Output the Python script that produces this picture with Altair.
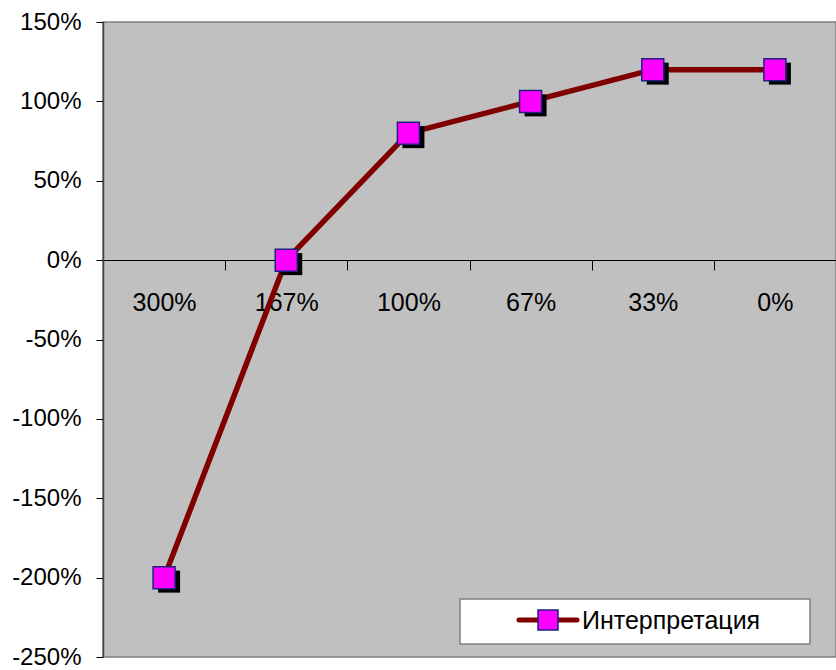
import altair as alt
import pandas as pd

# Category labels along the horizontal axis and the series values (in %)
categories = ["300%", "167%", "100%", "67%", "33%", "0%"]
values = [-200, 0, 80, 100, 120, 120]
series_name = "Интерпретация"

df = pd.DataFrame({"cat": categories, "val": values})

FONT = "Liberation Sans"
W, H = 733, 635

x_enc = alt.X(
    "cat:N",
    sort=categories,
    scale=alt.Scale(type="band", paddingInner=0, paddingOuter=0),
    axis=alt.Axis(
        title=None,
        orient="bottom",
        offset=-(H - 238),
        domainColor="#000000",
        domainWidth=1,
        tickBand="extent",
        tickColor="#000000",
        tickSize=10,
        labelPadding=20,
        labelAngle=0,
        labelFont=FONT,
        labelFontSize=25,
        labelColor="#000000",
    ),
)
y_enc = alt.Y(
    "val:Q",
    scale=alt.Scale(domain=[-250, 150], nice=False, zero=False),
    axis=alt.Axis(
        title=None,
        values=[-250, -200, -150, -100, -50, 0, 50, 100, 150],
        labelExpr="datum.value + '%'",
        grid=False,
        domainColor="#404040",
        domainWidth=1.5,
        tickColor="#000000",
        tickSize=7,
        labelPadding=15,
        labelFont=FONT,
        labelFontSize=24,
        labelColor="#000000",
    ),
)

base = alt.Chart(df).encode(x=x_enc, y=y_enc)

line = base.mark_line(color="#800000", strokeWidth=5.5)
shadow = base.mark_square(size=484, color="#000000", opacity=1, xOffset=5, yOffset=4)
markers = base.mark_square(
    size=484, fill="#FF00FF", stroke="#202080", strokeWidth=1.5, opacity=1, filled=True
)

# Legend box drawn in the lower right of the plot area
leg_df = pd.DataFrame({"label": [series_name]})
leg_base = alt.Chart(leg_df)
leg_box = leg_base.mark_rect(fill="#FFFFFF", stroke="#808080", strokeWidth=1.5).encode(
    x=alt.value(357), x2=alt.value(707), y=alt.value(577), y2=alt.value(622)
)
leg_line = leg_base.mark_rule(color="#800000", strokeWidth=5, strokeCap="round").encode(
    x=alt.value(416), x2=alt.value(474), y=alt.value(598)
)
leg_marker = leg_base.mark_square(
    size=400, fill="#FF00FF", stroke="#202080", strokeWidth=1.5, opacity=1, filled=True
).encode(x=alt.value(445), y=alt.value(598))
leg_text = leg_base.mark_text(
    align="left", baseline="middle", font=FONT, fontSize=25, color="#000000"
).encode(x=alt.value(479), y=alt.value(599), text="label:N")

chart = (
    alt.layer(line, shadow, markers, leg_box, leg_line, leg_marker, leg_text)
    .properties(
        width=W,
        height=H,
        autosize=alt.AutoSizeParams(type="none"),
        padding={"left": 103, "top": 22, "right": 0, "bottom": 13},
        background="#FFFFFF",
    )
    .configure_view(fill="#C0C0C0", stroke="#808080", strokeWidth=1.5)
)

chart.save("out.html", embed_options={"renderer": "svg", "actions": False})
